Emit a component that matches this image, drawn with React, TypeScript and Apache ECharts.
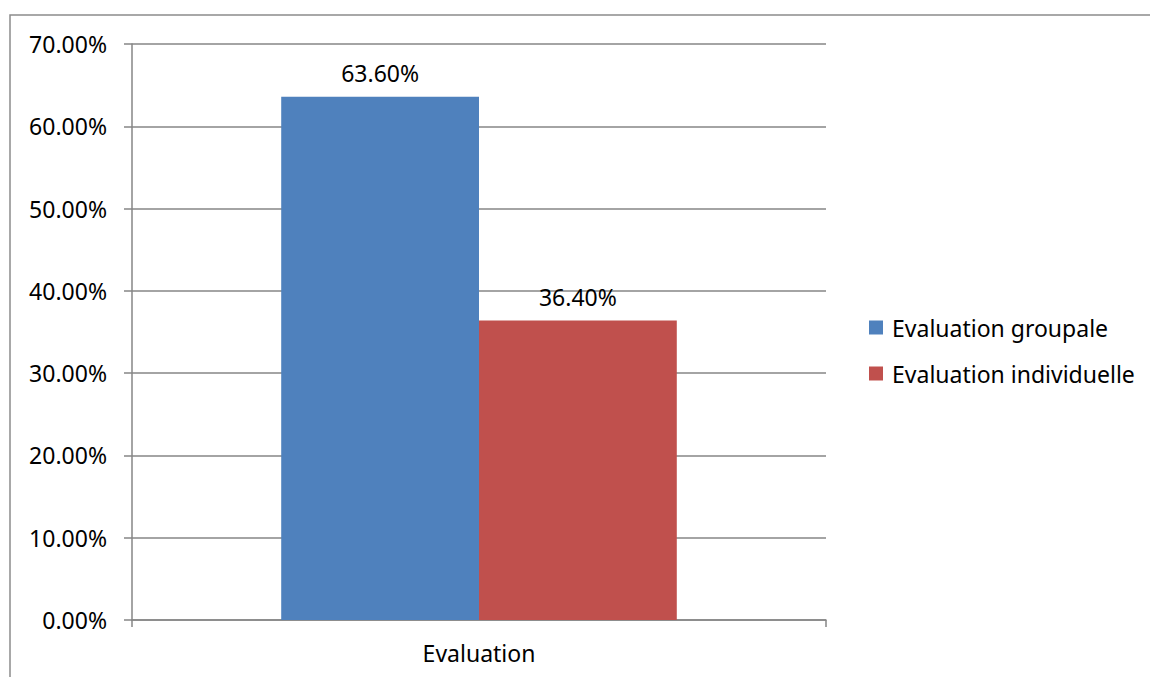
import React, { useEffect, useRef } from "react";
import * as echarts from "echarts";

const categories = ["Evaluation"];
const seriesNames = ["Evaluation groupale", "Evaluation individuelle"];
const groupaleValues = [63.6];
const individuelleValues = [36.4];
const seriesColors = ["#4F81BD", "#C0504D"];
const yMin = 0;
const yMax = 70;
const yStep = 10;

const FONT = "Noto Sans";
const FS = 23;

export default function App() {
  const ref = useRef<HTMLDivElement>(null);
  useEffect(() => {
    if (!ref.current) return;
    const chart = echarts.init(ref.current, undefined, { renderer: "svg" });
    const label = {
      show: true,
      position: "top",
      distance: 12,
      color: "#000",
      fontFamily: FONT,
      fontSize: FS,
      formatter: (p: any) => Number(p.value).toFixed(2) + "%",
    };
    chart.setOption({
      animation: false,
      backgroundColor: "#fff",
      textStyle: { fontFamily: FONT },
      graphic: [
        {
          type: "rect",
          shape: { x: 10, y: 15, width: 1200, height: 720 },
          style: { fill: "none", stroke: "#8c8c8c", lineWidth: 1.5 },
          silent: true,
        },
      ],
      grid: { left: 132, right: 324, top: 44, bottom: 57 },
      legend: {
        orient: "vertical",
        left: 864,
        top: 311,
        icon: "rect",
        itemWidth: 14,
        itemHeight: 14,
        itemGap: 23,
        textStyle: { fontFamily: FONT, fontSize: FS, color: "#000", padding: [0, 0, 0, 4] },
        data: seriesNames,
      },
      xAxis: {
        type: "category",
        data: categories,
        axisLine: { lineStyle: { color: "#868686", width: 1.5 } },
        axisTick: { show: true, length: 7, lineStyle: { color: "#868686", width: 1.5 } },
        axisLabel: { color: "#000", fontFamily: FONT, fontSize: FS, margin: 21 },
      },
      yAxis: {
        type: "value",
        min: yMin,
        max: yMax,
        interval: yStep,
        axisLine: { show: true, lineStyle: { color: "#868686", width: 1.5 } },
        axisTick: { show: true, length: 8, lineStyle: { color: "#868686", width: 1.5 } },
        splitLine: { show: true, lineStyle: { color: "#868686", width: 1.5 } },
        axisLabel: {
          color: "#000",
          fontFamily: FONT,
          fontSize: FS,
          margin: 25,
          formatter: (v: number) => v.toFixed(2) + "%",
        },
      },
      series: [
        {
          name: seriesNames[0],
          type: "bar",
          data: groupaleValues,
          itemStyle: { color: seriesColors[0] },
          barGap: "0%",
          barCategoryGap: "43%",
          label,
        },
        {
          name: seriesNames[1],
          type: "bar",
          data: individuelleValues,
          itemStyle: { color: seriesColors[1] },
          barGap: "0%",
          barCategoryGap: "43%",
          label,
        },
      ],
    });
    return () => chart.dispose();
  }, []);
  return (
    <div
      ref={ref}
      style={{ position: "fixed", left: 0, top: 0, width: 1150, height: 677 }}
    />
  );
}
